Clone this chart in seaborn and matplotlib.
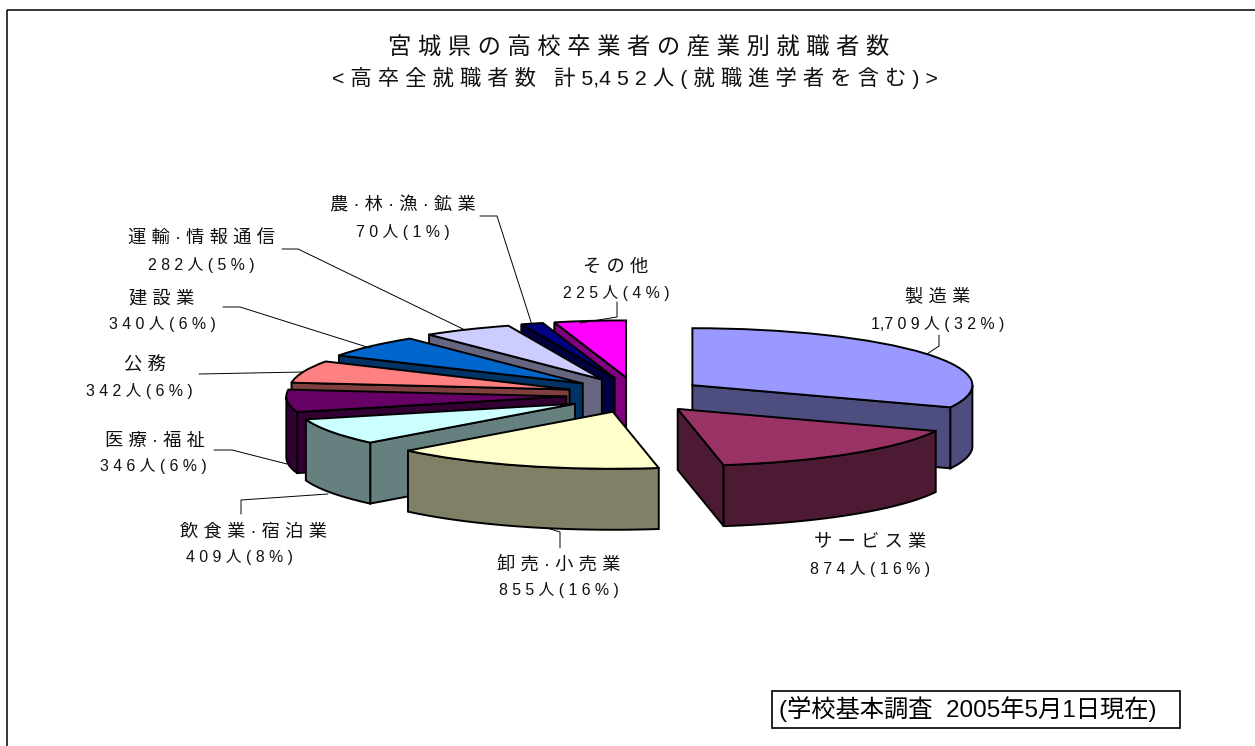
import numpy as np
import matplotlib.pyplot as plt
import seaborn as sns
from matplotlib.patches import Polygon, Rectangle
from matplotlib.transforms import Affine2D

# data, clockwise from 12 o'clock
industries = ["製造業", "サービス業", "卸売·小売業", "飲食業·宿泊業", "医療·福祉",
              "公務", "建設業", "運輸·情報通信", "農·林·漁·鉱業", "その他"]
workers = [1709, 874, 855, 409, 346, 342, 340, 282, 70, 225]
percent = [32, 16, 16, 8, 6, 6, 6, 5, 1, 4]
top_colors = ["#9999FF", "#993366", "#FFFFCC", "#CCFFFF", "#660066",
              "#FF8080", "#0066CC", "#CCCCFF", "#000080", "#FF00FF"]

title = "宮城県の高校卒業者の産業別就職者数"
subtitle = "<高卒全就職者数  計5,452人(就職進学者を含む)>"
source_note = "(学校基本調査  2005年5月1日現在)"

# pie layout in pixels
CX, CY = 635, 395
RX, RY = 280, 57
EXPLODE_Y = 72
DEPTH = 61
explode = [0.246] * len(workers)
draw_order = [9, 0, 8, 7, 6, 5, 4, 3, 2, 1]

# label centres (name line, number line) and leader lines
label_pos = [((938, 298), (938, 324)), ((870, 543), (870, 569)), ((559, 565), (559, 590)),
             ((253, 532), (240, 557)), ((155, 441), (153, 466)), ((145, 366), (139, 391)),
             ((162, 299), (162, 324)), ((201, 239), (201, 265)), ((403, 206), (403, 232)),
             ((616, 267), (616, 293))]
leaders = [[(939, 335), (939, 346), (927, 354)],
           [(547, 528), (560, 532), (560, 548)],
           [(241, 514), (241, 500), (328, 494)],
           [(214, 450), (232, 450), (287, 464)],
           [(199, 374), (303, 372)],
           [(223, 307), (240, 307), (370, 348)],
           [(282, 249), (298, 249), (465, 330)],
           [(480, 216), (497, 216), (532, 325)],
           [(617, 302), (617, 317), (580, 323)]]


def spaced(s):
    # the reference has wide letter spacing; keep the comma tight
    return " ".join(s).replace(" , ", ",").replace("  ", " ")


sns.set_theme(style="white")
plt.rcParams['font.family'] = ['Liberation Sans', 'Noto Sans CJK JP', 'DejaVu Sans']

fig = plt.figure(figsize=(12.55, 7.46), dpi=100)
ax = fig.add_axes([0, 0, 1, 1])

palette = sns.color_palette(top_colors)
wedges, _ = ax.pie(workers, explode=explode, startangle=90, counterclock=False,
                   colors=palette, wedgeprops=dict(edgecolor="black", linewidth=1.4))
ax.set_aspect("auto")
ax.set_xlim(0, 1255)
ax.set_ylim(746, 0)
ax.set_axis_on()
ax.set_xticks([])
ax.set_yticks([])
for sp in ax.spines.values():
    sp.set_visible(False)

for z, i in enumerate(draw_order):
    w = wedges[i]
    ex, ey = w.center
    ax0 = CX + RX * ex
    ay0 = CY - EXPLODE_Y * ey
    side = np.array(palette[i]) * 0.5
    style = dict(facecolor=side, edgecolor="black", linewidth=1.4, joinstyle="miter", zorder=10 + z * 2)

    # top face is the pie wedge itself, squashed on to the ellipse
    w.set_transform(Affine2D().translate(-ex, -ey).scale(RX, -RY).translate(ax0, ay0) + ax.transData)
    w.set_zorder(11 + z * 2)

    def rim(t):
        return np.column_stack([ax0 + RX * np.cos(t), ay0 - RY * np.sin(t)])

    # cut faces that look toward the viewer
    for ang, visible in ((w.theta1, np.cos(np.radians(w.theta1)) > 0.01),
                         (w.theta2, np.cos(np.radians(w.theta2)) < -0.01)):
        if visible:
            p = rim(np.radians([ang]))[0]
            ax.add_patch(Polygon([(ax0, ay0), p, (p[0], p[1] + DEPTH), (ax0, ay0 + DEPTH)], **style))

    # outer wall, front half only
    t = np.radians(np.linspace(w.theta1, w.theta2, 300))
    t = t[np.sin(t) <= 0]
    if len(t) > 1:
        arc = rim(t)
        ax.add_patch(Polygon(np.vstack([arc, (arc + [0, DEPTH])[::-1]]), **style))

# labels
for name, n, pct, (p1, p2) in zip(industries, workers, percent, label_pos):
    ax.text(p1[0], p1[1], spaced(name), ha="center", va="center", fontsize=13.2, color="#111111", zorder=50)
    ax.text(p2[0], p2[1], spaced(f"{n:,}人({pct}%)"), ha="center", va="center", fontsize=11.4,
            color="#111111", zorder=50)

for pts in leaders:
    xs, ys = zip(*pts)
    ax.plot(xs, ys, color="black", lw=0.7, zorder=40, solid_joinstyle="miter")

ax.text(639, 48, spaced(title), ha="center", va="center", fontsize=16.8, color="#111111", zorder=50)
ax.text(635, 78, spaced(subtitle), ha="center", va="center", fontsize=15.4, color="#111111", zorder=50)

# outer frame runs off the right and bottom of the image
ax.add_patch(Rectangle((7, 9.5), 1300, 800, fill=False, edgecolor="black", linewidth=1.1, zorder=60))

# source box
ax.add_patch(Rectangle((771.5, 690.5), 408, 37, facecolor="white", edgecolor="black", linewidth=1.2, zorder=60))
ax.text(779, 708.5, source_note, ha="left", va="center", fontsize=17.5, color="black", zorder=61)

fig.savefig("out.png", dpi=100)
